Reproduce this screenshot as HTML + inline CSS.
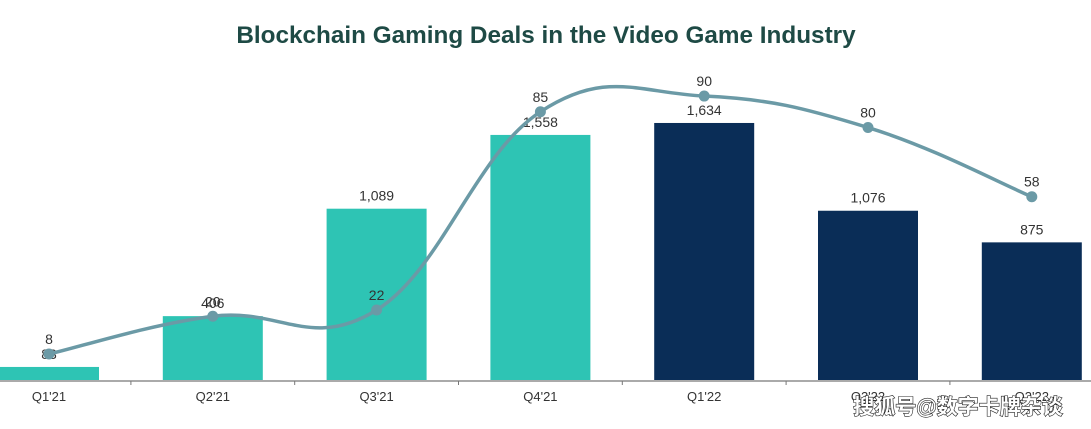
<!DOCTYPE html>
<html><head><meta charset="utf-8"><style>
html,body{margin:0;padding:0;background:#fff;width:1091px;height:429px;overflow:hidden}
svg{display:block;font-family:"Liberation Sans","Noto Sans CJK SC",sans-serif}
</style></head><body>
<svg id="chart" width="1091" height="429">
<text x="546" y="43" text-anchor="middle" font-size="24.3" font-weight="bold" fill="#1e4a45">Blockchain Gaming Deals in the Video Game Industry</text>
<g id="bars"></g><g id="axis"></g><g id="line"></g>
<text x="958" y="414" text-anchor="middle" font-size="21" font-weight="bold" fill="#fff" stroke="#222" stroke-width="1.2" paint-order="stroke">搜狐号@数字卡牌杂谈</text>
</svg>
<script>
const categories=["Q1'21","Q2'21","Q3'21","Q4'21","Q1'22","Q2'22","Q3'22"];
const dealValues=[83,406,1089,1558,1634,1076,875];
const dealLabels=["83","406","1,089","1,558","1,634","1,076","875"];
const dealCounts=[8,20,22,85,90,80,58];
const barColors=["#2ec4b4","#2ec4b4","#2ec4b4","#2ec4b4","#0a2d57","#0a2d57","#0a2d57"];
const NS="http://www.w3.org/2000/svg";
const step=163.8, x0=49;
const xc=i=>x0+i*step;
const yBar=v=>380-v*0.1573;
const yLine=v=>379.2-v*3.146;
function mk(t,a,p){const e=document.createElementNS(NS,t);for(const k in a)e.setAttribute(k,a[k]);p.appendChild(e);return e;}
const gb=document.getElementById('bars'),ga=document.getElementById('axis'),gl=document.getElementById('line');
categories.forEach((c,i)=>{
 const r=mk('rect',{x:xc(i)-50,y:yBar(dealValues[i]),width:100,height:380-yBar(dealValues[i]),fill:barColors[i]},gb);
 
 
 const t=mk('text',{x:xc(i),y:yBar(dealValues[i])-8,'text-anchor':'middle','font-size':14,fill:'#333'},gb);
 t.textContent=dealLabels[i];
 
 
 const xl=mk('text',{x:xc(i),y:401,'text-anchor':'middle','font-size':13,fill:'#333'},ga);
 xl.textContent=c;
 
 
 const tk=mk('line',{x1:xc(i)+step/2,x2:xc(i)+step/2,y1:381,y2:385,stroke:'#777'},ga);
 
 
});
const ax=mk('line',{x1:0,x2:1091,y1:381,y2:381,stroke:'#777','stroke-width':1.2},ga);


const pts=dealCounts.map((v,i)=>[xc(i),yLine(v)]);
let d='M'+pts[0][0]+','+pts[0][1];
for(let i=0;i<pts.length-1;i++){
 const p0=pts[i-1]||pts[i],p1=pts[i],p2=pts[i+1],p3=pts[i+2]||p2;
 const t=0.2;
 const c1=[p1[0]+(p2[0]-p0[0])*t,p1[1]+(p2[1]-p0[1])*t];
 const c2=[p2[0]-(p3[0]-p1[0])*t,p2[1]-(p3[1]-p1[1])*t];
 d+=' C'+c1+' '+c2+' '+p2;
}
const path=mk('path',{d:d,fill:'none',stroke:'#6b9aa6','stroke-width':3.5},gl);


pts.forEach((p,i)=>{
 const c=mk('circle',{cx:p[0],cy:p[1],r:5.5,fill:'#6b9aa6'},gl);
 
 
 const t=mk('text',{x:p[0],y:p[1]-10,'text-anchor':'middle','font-size':14,fill:'#333'},gl);
 t.textContent=dealCounts[i];
 
 
});
</script>
</body></html>
